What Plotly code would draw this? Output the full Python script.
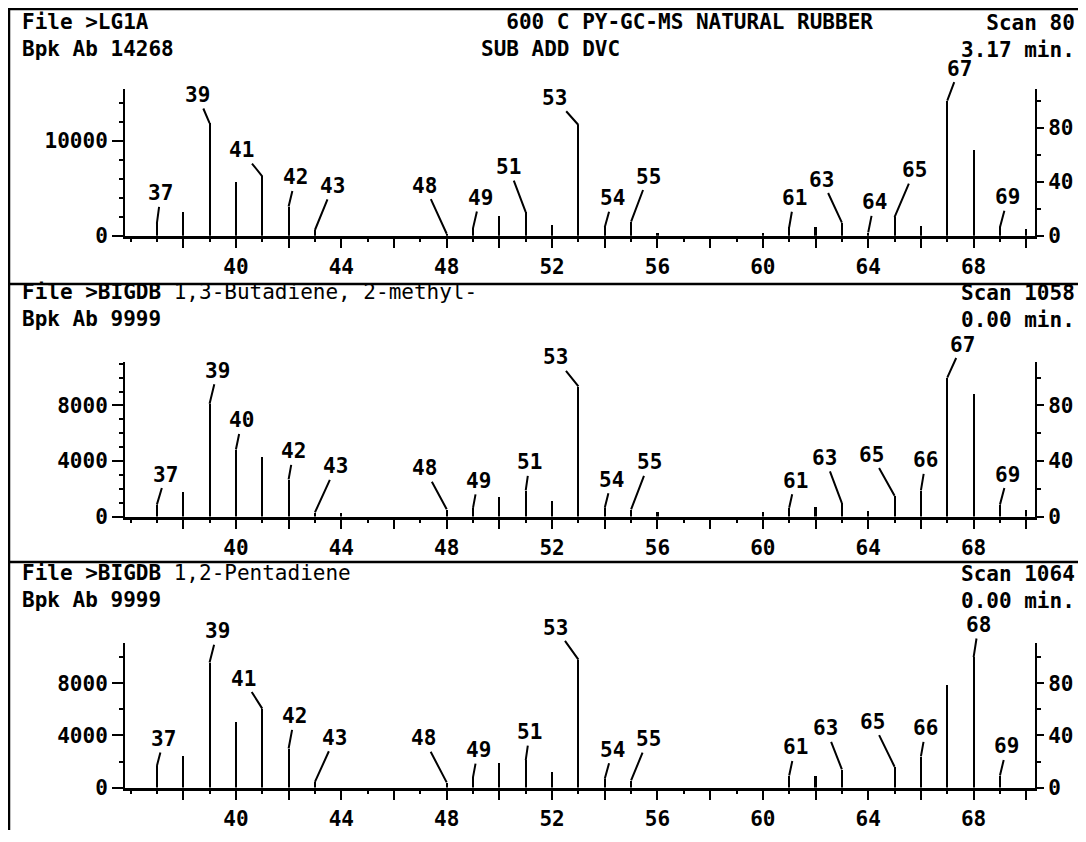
import plotly.graph_objects as go

# ---------------- data ----------------
mz_1 = [37, 38, 39, 40, 41, 42, 43, 48, 49, 50, 51, 52, 53, 54, 55, 56, 60, 61, 62, 63, 64, 65, 66, 67, 68, 69, 70]
ab_1 = [1310, 2480, 11900, 5670, 6280, 3090, 600, 200, 800, 2130, 2480, 1130, 11700, 890, 1490, 250, 320, 890, 890, 1380, 350, 1950, 1060, 14268, 9110, 890, 700]

mz_2 = [37, 38, 39, 40, 41, 42, 43, 44, 48, 49, 50, 51, 52, 53, 54, 55, 56, 60, 61, 62, 63, 64, 65, 66, 67, 68, 69, 70]
ab_2 = [860, 1770, 8120, 4830, 4310, 2680, 300, 300, 520, 630, 1430, 1880, 1130, 9360, 630, 520, 360, 360, 630, 680, 975, 400, 1500, 1880, 9999, 8800, 860, 450]

mz_3 = [37, 38, 39, 40, 41, 42, 43, 48, 49, 50, 51, 52, 53, 54, 55, 61, 62, 63, 65, 66, 67, 68, 69]
ab_3 = [1660, 2440, 9590, 5070, 6050, 3000, 440, 400, 800, 1900, 2100, 1220, 9800, 680, 560, 930, 930, 1400, 1600, 2390, 7880, 9999, 930]

bpk = [14268, 9999, 9999]
files = ["LG1A", "BIGDB", "BIGDB"]
compounds = ["", "1,3-Butadiene, 2-methyl-", "1,2-Pentadiene"]
scans = ["Scan 80", "Scan 1058", "Scan 1064"]
times = ["3.17 min.", "0.00 min.", "0.00 min."]
title_1 = "600 C PY-GC-MS NATURAL RUBBER"
subtitle_1 = "SUB ADD DVC"

labels_1 = [37, 39, 41, 42, 43, 48, 49, 51, 53, 54, 55, 61, 63, 64, 65, 67, 69]
labels_2 = [37, 39, 40, 42, 43, 48, 49, 51, 53, 54, 55, 61, 63, 65, 66, 67, 69]
labels_3 = [37, 39, 41, 42, 43, 48, 49, 51, 53, 54, 55, 61, 63, 65, 66, 68, 69]

x_tick_labels = [40, 44, 48, 52, 56, 60, 64, 68]

# ---------------- layout helpers (styling / positions) ----------------
# the page body has an 8px margin, so the figure is placed at (8, 8)
OFF = 8
W, H = 1086 - OFF, 842 - OFF
FONT = "DejaVu Sans Mono"
FS = 21


def px(x):
    return (x - OFF) / W


def py(y):
    return 1 - (y - OFF) / H


def fnt(size=FS, weight="bold"):
    return dict(family=FONT, size=size, color="black", weight=weight)


# label offsets (pixels, label centre relative to peak top)
off_1 = {37: (4, -30), 39: (-12, -28), 41: (-21, -26), 42: (7, -29), 43: (18, -44), 48: (-22, -48),
         49: (7, -30), 51: (-17, -45), 53: (-24, -27), 54: (8, -29), 55: (17, -45), 61: (5, -29),
         63: (-20, -43), 64: (6, -30), 65: (20, -47), 67: (12, -32), 69: (8, -30)}
off_2 = {37: (9, -30), 39: (8, -33), 40: (6, -29), 42: (5, -28), 43: (21, -46), 48: (-22, -41),
         49: (5, -27), 51: (4, -28), 53: (-23, -29), 54: (7, -28), 55: (18, -47), 61: (6, -27),
         63: (-17, -45), 65: (-23, -41), 66: (5, -30), 67: (15, -33), 69: (8, -30)}
off_3 = {37: (7, -27), 39: (8, -31), 41: (-19, -30), 42: (6, -32), 43: (20, -44), 48: (-23, -44),
         49: (5, -27), 51: (4, -28), 53: (-23, -32), 54: (8, -29), 55: (17, -41), 61: (6, -28),
         63: (-16, -41), 65: (-22, -45), 66: (5, -28), 68: (5, -32), 69: (7, -29)}

# panel geometry: (top px, zero px, px per 1000 abundance)
panels = [(90, 239, 9.6), (367, 524, 14.1), (652, 799, 13.25)]
heads = [36, 310, 595]
left_major = [[0, 10000], [0, 4000, 8000], [0, 4000, 8000]]
left_minor = [2000, 1000, 2000]

X0, X1 = 125, 1035
xr = [35.79, 70.33]

data = [(mz_1, ab_1, labels_1, off_1), (mz_2, ab_2, labels_2, off_2), (mz_3, ab_3, labels_3, off_3)]

fig = go.Figure()
layout = dict(width=W, height=H, margin=dict(l=0, r=0, t=0, b=0), paper_bgcolor="white",
              plot_bgcolor="white", showlegend=False, bargap=0)
annotations = []
shapes = []

for i, ((mz, ab, labs, offs), (top, zero, ppk)) in enumerate(zip(data, panels)):
    xa = "x" if i == 0 else f"x{i + 1}"
    ya = "y" if i == 0 else f"y{2 * i + 1}"
    yb = f"y{2 * i + 2}"
    xkey = "xaxis" if i == 0 else f"xaxis{i + 1}"
    ykey = "yaxis" if i == 0 else f"yaxis{2 * i + 1}"
    ykey2 = f"yaxis{2 * i + 2}"
    ymax = (zero - top) / ppk * 1000
    dom = [py(zero), py(top)]

    fig.add_trace(go.Bar(x=mz, y=ab, xaxis=xa, yaxis=ya, width=0.08,
                         marker=dict(color="black", line=dict(width=0)), hoverinfo="x+y"))
    fig.add_trace(go.Scatter(x=[mz[0]], y=[0], xaxis=xa, yaxis=yb, mode="markers",
                             marker=dict(opacity=0), hoverinfo="skip"))

    evens = list(range(38, 71, 2))
    layout[xkey] = dict(domain=[px(X0), px(X1)], range=xr, anchor=ya, showgrid=False, zeroline=False,
                        showline=True, linewidth=2.5, linecolor="black",
                        tickmode="array", tickvals=evens,
                        ticktext=[str(v) if v in x_tick_labels else "" for v in evens],
                        ticks="outside", ticklen=10, tickwidth=2, tickcolor="black",
                        minor=dict(dtick=1, tick0=37, ticks="outside", ticklen=4, tickwidth=2, tickcolor="black"),
                        tickfont=fnt(), fixedrange=True)
    layout[ykey] = dict(domain=dom, range=[0, ymax], anchor=xa, showgrid=False, zeroline=False,
                        showline=True, linewidth=2, linecolor="black",
                        tickmode="array", tickvals=left_major[i], ticktext=[str(v) for v in left_major[i]],
                        ticks="outside", ticklen=11, tickwidth=2, tickcolor="black",
                        minor=dict(dtick=left_minor[i], ticks="outside", ticklen=4, tickwidth=2, tickcolor="black"),
                        tickfont=fnt(), fixedrange=True)
    layout[ykey2] = dict(domain=dom, range=[0, ymax / bpk[i] * 100], anchor=xa, overlaying=ya, side="right",
                         showgrid=False, zeroline=False, showline=True, linewidth=2, linecolor="black",
                         tickmode="array", tickvals=[0, 40, 80], ticktext=["0", "40", "80"],
                         ticks="outside", ticklen=7, tickwidth=2, tickcolor="black",
                         minor=dict(dtick=20, ticks="outside", ticklen=4, tickwidth=2, tickcolor="black"),
                         tickfont=fnt(), fixedrange=True)

    lookup = dict(zip(mz, ab))
    for m in labs:
        dx, dy = offs[m]
        annotations.append(dict(x=m, y=lookup[m], xref=xa, yref=ya, text=str(m),
                                showarrow=True, arrowhead=0, arrowwidth=2, arrowcolor="black",
                                ax=dx, ay=dy, standoff=0, startstandoff=1, borderpad=0,
                                font=fnt()))

    # headers (two lines each side)
    hy = heads[i]
    ftxt = f"<b>File &gt;{files[i]}</b>"
    if compounds[i]:
        ftxt += f" {compounds[i]}"
    ftxt += f"<br><b>Bpk Ab {bpk[i]}</b>"
    annotations.append(dict(x=px(21), y=py(hy), xref="paper", yref="paper", xanchor="left", yanchor="middle",
                            align="left", text=ftxt, showarrow=False, borderpad=0,
                            font=fnt(weight="normal")))
    annotations.append(dict(x=px(1076), y=py(hy + 1), xref="paper", yref="paper", xanchor="right",
                            yanchor="middle", align="right", text=f"{scans[i]}<br>{times[i]}",
                            showarrow=False, borderpad=0, font=fnt()))

annotations.append(dict(x=px(480), y=py(36), xref="paper", yref="paper", xanchor="left", yanchor="middle",
                        align="left", text=f"&nbsp;&nbsp;{title_1}<br>{subtitle_1}", showarrow=False,
                        borderpad=0, font=fnt()))

# frame and dividers
for yy in [9, 288, 570]:
    shapes.append(dict(type="line", xref="paper", yref="paper", x0=px(8), x1=1, y0=py(yy), y1=py(yy),
                       line=dict(color="black", width=2.5)))
shapes.append(dict(type="line", xref="paper", yref="paper", x0=px(9), x1=px(9), y0=py(9), y1=0,
                   line=dict(color="black", width=2.5)))

layout["annotations"] = annotations
layout["shapes"] = shapes
fig.update_layout(**layout)
fig.write_html("out.html")
